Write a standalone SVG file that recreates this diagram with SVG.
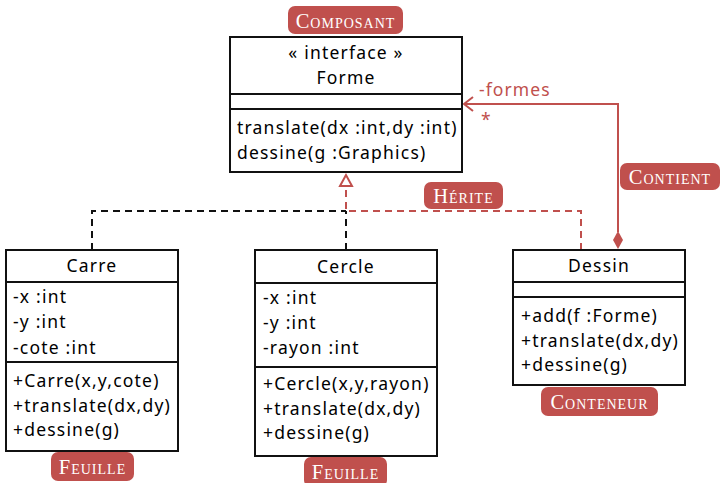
<svg xmlns="http://www.w3.org/2000/svg" width="720" height="483" viewBox="0 0 720 483">
  <style>
    .box { fill: #fff; stroke: #111; stroke-width: 2; }
    .sep { stroke: #111; stroke-width: 2; }
    .t { font-family: "Noto Sans", "Open Sans", "DejaVu Sans", sans-serif; font-size: 17.5px; fill: #000; letter-spacing: 1.2px; }
    .c { text-anchor: middle; }
    .tag rect { fill: #c0504d; }
    .tag text { font-family: "Liberation Serif", serif; font-size: 20.5px; font-variant: small-caps; letter-spacing: 1px; fill: #fff; text-anchor: middle; }
    .dash-k { fill: none; stroke: #111; stroke-width: 2; stroke-dasharray: 7 5; }
    .dash-r { fill: none; stroke: #c0504d; stroke-width: 2; stroke-dasharray: 7 5; }
    .solid-r { fill: none; stroke: #c0504d; stroke-width: 2; }
    .rt { font-family: "Noto Sans", "Open Sans", "DejaVu Sans", sans-serif; font-size: 17.5px; fill: #c0504d; letter-spacing: 1.1px; }
  </style>

  <!-- connectors -->
  <g id="connectors">
    <!-- realisation of Forme by Carre and Cercle -->
    <path class="dash-k" d="M92,250 V211 H346"/>
    <path class="dash-k" d="M346,250 V211"/>
    <!-- realisation of Forme by Dessin -->
    <path class="dash-r" d="M581,250 V211 H346 V186"/>
    <polygon points="346,175 340,186 352,186" fill="#fff" stroke="#c0504d" stroke-width="2"/>
    <!-- composition Dessin -> Forme -->
    <path class="solid-r" d="M618,232 V104 H464"/>
    <path class="solid-r" d="M473,97 L464,104 L473,111"/>
    <polygon points="618,231 623,240 618,249 613,240" fill="#c0504d"/>
    <text class="rt" x="479" y="96">-formes</text>
    <text class="rt" x="481" y="126">*</text>
  </g>

  <!-- Forme interface -->
  <g id="forme">
    <rect class="box" x="230" y="37" width="232" height="135"/>
    <line class="sep" x1="230" y1="94" x2="462" y2="94"/>
    <line class="sep" x1="230" y1="109" x2="462" y2="109"/>
    <text class="t c" x="346" y="59">« interface »</text>
    <text class="t c" x="346" y="84">Forme</text>
    <text class="t" x="237" y="134">translate(dx :int,dy :int)</text>
    <text class="t" x="237" y="159">dessine(g :Graphics)</text>
  </g>

  <!-- Carre -->
  <g id="carre">
    <rect class="box" x="6" y="250" width="172" height="201"/>
    <line class="sep" x1="6" y1="282" x2="178" y2="282"/>
    <line class="sep" x1="6" y1="362" x2="178" y2="362"/>
    <text class="t c" x="92" y="272">Carre</text>
    <text class="t" x="13" y="303">-x :int</text>
    <text class="t" x="13" y="328">-y :int</text>
    <text class="t" x="13" y="354">-cote :int</text>
    <text class="t" x="13" y="387">+Carre(x,y,cote)</text>
    <text class="t" x="13" y="412">+translate(dx,dy)</text>
    <text class="t" x="13" y="436">+dessine(g)</text>
  </g>

  <!-- Cercle -->
  <g id="cercle">
    <rect class="box" x="255" y="250" width="182" height="206"/>
    <line class="sep" x1="255" y1="283" x2="437" y2="283"/>
    <line class="sep" x1="255" y1="367" x2="437" y2="367"/>
    <text class="t c" x="346" y="273">Cercle</text>
    <text class="t" x="263" y="304">-x :int</text>
    <text class="t" x="263" y="329">-y :int</text>
    <text class="t" x="263" y="354">-rayon :int</text>
    <text class="t" x="263" y="390">+Cercle(x,y,rayon)</text>
    <text class="t" x="263" y="415">+translate(dx,dy)</text>
    <text class="t" x="263" y="439">+dessine(g)</text>
  </g>

  <!-- Dessin -->
  <g id="dessin">
    <rect class="box" x="513" y="250" width="172" height="135"/>
    <line class="sep" x1="513" y1="282" x2="685" y2="282"/>
    <line class="sep" x1="513" y1="297" x2="685" y2="297"/>
    <text class="t c" x="599" y="272">Dessin</text>
    <text class="t" x="521" y="322">+add(f :Forme)</text>
    <text class="t" x="521" y="347">+translate(dx,dy)</text>
    <text class="t" x="521" y="371">+dessine(g)</text>
  </g>

  <!-- role tags -->
  <g id="tag-composant" class="tag">
    <rect x="288" y="6" width="115" height="28" rx="7"/>
    <text x="345.5" y="28">Composant</text>
  </g>
  <g id="tag-contient" class="tag">
    <rect x="620" y="163" width="100" height="27" rx="7"/>
    <text x="670" y="184">Contient</text>
  </g>
  <g id="tag-herite" class="tag">
    <rect x="424" y="182" width="79" height="27" rx="7"/>
    <text x="463.5" y="203">Hérite</text>
  </g>
  <g id="tag-feuille-1" class="tag">
    <rect x="51" y="452" width="83" height="29" rx="7"/>
    <text x="92.5" y="474">Feuille</text>
  </g>
  <g id="tag-feuille-2" class="tag">
    <rect x="304" y="457" width="83" height="30" rx="7"/>
    <text x="345.5" y="479">Feuille</text>
  </g>
  <g id="tag-conteneur" class="tag">
    <rect x="541" y="387" width="117" height="29" rx="7"/>
    <text x="599.5" y="409">Conteneur</text>
  </g>
</svg>
